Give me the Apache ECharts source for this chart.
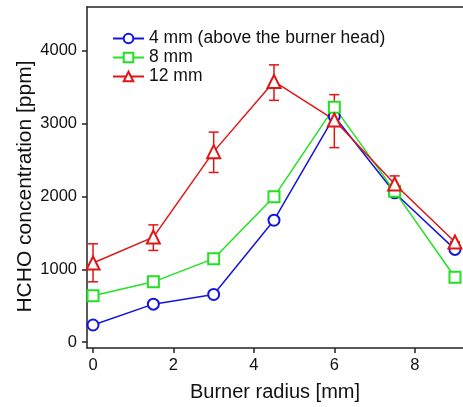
<!DOCTYPE html>
<html>
<head>
<meta charset="utf-8">
<script src="https://cdn.jsdelivr.net/npm/echarts@6/dist/echarts.min.js"></script>
<style>html,body{margin:0;padding:0;background:#fff;}#c{width:463px;height:407px;}</style>
</head>
<body>
<div id="c"></div>
<script>
const radius = [0, 1.5, 3, 4.5, 6, 7.5, 9];
const s4mm = [236, 522, 655, 1674, 3100, 2050, 1273];
const s8mm = [637, 828, 1146, 1995, 3225, 2070, 891];
const s12mm = [1087, 1442, 2615, 3578, 3050, 2170, 1374];
const s12errLow = [828, 1259, 2329, 3319, 2670, 2055, 1374];
const s12errHigh = [1350, 1610, 2883, 3806, 3397, 2282, 1374];
const xTicks = [0, 2, 4, 6, 8];
const yTicks = [0, 1000, 2000, 3000, 4000];
const names = ['4 mm (above the burner head)', '8 mm', '12 mm'];

const FONT = 'Liberation Sans, Arial, sans-serif';
const chart = echarts.init(document.getElementById('c'), null, {renderer: 'canvas'});

function pairs(ys) { return radius.map((x, i) => [x, ys[i]]); }
const errData = radius.map((x, i) => [x, s12errLow[i], s12errHigh[i]]);

function lineSeries(name, ys, color, symbol, size) {
  return {
    name: name, type: 'line', data: pairs(ys),
    symbol: symbol, symbolSize: size, showAllSymbol: true,
    lineStyle: {color: color, width: 1.5},
    itemStyle: {color: '#fff', borderColor: color, borderWidth: 2},
    emphasis: {disabled: true}, animation: false, z: 3
  };
}

chart.setOption({
  animation: false,
  grid: {left: 87, top: 7, bottom: 57, right: -5.5},
  legend: {
    left: 107, top: 24, orient: 'vertical',
    itemWidth: 31, itemHeight: 12, itemGap: 0,
    textStyle: {fontFamily: FONT, fontSize: 17.5, lineHeight: 19, color: '#111'},
    data: names
  },
  xAxis: [{
    type: 'value', min: -0.15, max: 9.2,
    name: 'Burner radius [mm]', nameLocation: 'middle', nameGap: 34,
    nameTextStyle: {fontFamily: FONT, fontSize: 20, color: '#111'},
    axisLine: {show: true, onZero: false, lineStyle: {color: '#222', width: 1.5}},
    axisTick: {show: true, inside: false, length: 5, customValues: xTicks, lineStyle: {color: '#222', width: 1.5}},
    axisLabel: {customValues: xTicks, fontFamily: FONT, fontSize: 16.5, color: '#111', margin: 9},
    splitLine: {show: false}
  }, {
    type: 'value', position: 'top', min: -0.15, max: 9.2,
    axisLine: {show: true, onZero: false, lineStyle: {color: '#222', width: 1.5}},
    axisTick: {show: false}, axisLabel: {show: false}, splitLine: {show: false}
  }],
  yAxis: {
    type: 'value', min: -80, max: 4600,
    name: 'HCHO concentration [ppm]', nameLocation: 'middle', nameGap: 51, nameMoveOverlap: false,
    nameTextStyle: {fontFamily: FONT, fontSize: 21, color: '#111', padding: [0, 18, 0, 0]},
    axisLine: {show: true, onZero: false, lineStyle: {color: '#222', width: 1.5}},
    axisTick: {show: true, inside: false, length: 5, customValues: yTicks, lineStyle: {color: '#222', width: 1.5}},
    axisLabel: {customValues: yTicks, formatter: function (v) { return String(v); }, fontFamily: FONT, fontSize: 16.5, color: '#111', margin: 10},
    splitLine: {show: false}
  },
  series: [
    lineSeries(names[0], s4mm, '#1515e0', 'circle', 11),
    lineSeries(names[1], s8mm, '#22e022', 'rect', 11),
    lineSeries(names[2], s12mm, '#e01515', 'triangle', 13),
    {
      type: 'custom', data: errData, z: 2, silent: true,
      encode: {x: 0, y: [1, 2]},
      renderItem: function (params, api) {
        const x = api.value(0);
        const lo = api.coord([x, api.value(1)]);
        const hi = api.coord([x, api.value(2)]);
        const hw = 5;
        const st = {stroke: '#e01515', lineWidth: 1.5};
        return {type: 'group', children: [
          {type: 'line', shape: {x1: lo[0], y1: lo[1], x2: hi[0], y2: hi[1]}, style: st},
          {type: 'line', shape: {x1: lo[0] - hw, y1: lo[1], x2: lo[0] + hw, y2: lo[1]}, style: st},
          {type: 'line', shape: {x1: hi[0] - hw, y1: hi[1], x2: hi[0] + hw, y2: hi[1]}, style: st}
        ]};
      }
    }
  ]
});
</script>
</body>
</html>
